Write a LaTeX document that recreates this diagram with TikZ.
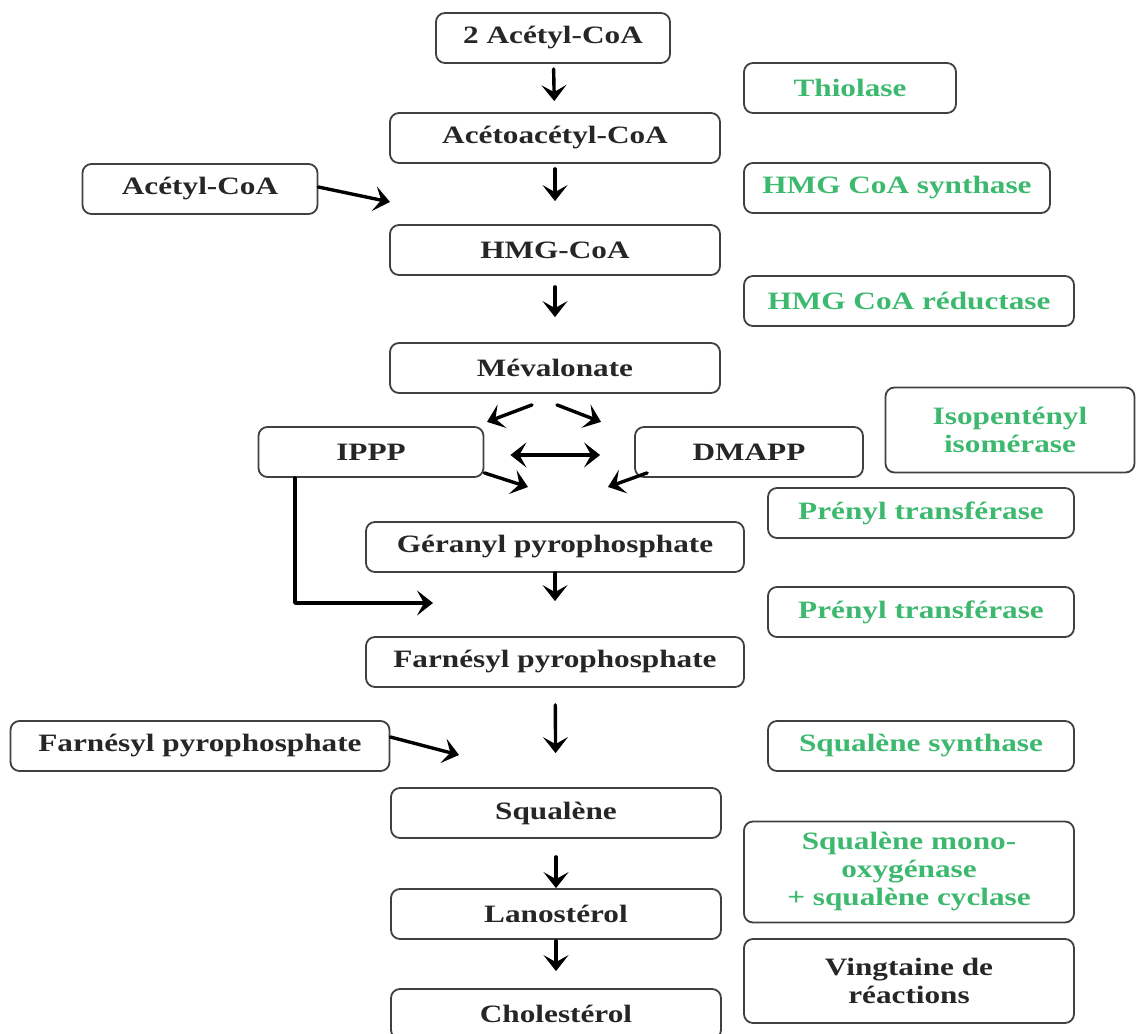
\documentclass[tikz,border=0pt]{standalone}
\usepackage{fontspec}
\setmainfont{Liberation Serif}[FakeStretch=1.25]
\usetikzlibrary{arrows.meta}
\definecolor{enzgreen}{RGB}{60,185,110}
\tikzset{
    box/.style={%metabolite boxes
        draw=black!75,line width=1.8pt,rounded corners=9pt,
        minimum height=50pt,inner sep=0pt,align=center,text=black!85,
        font=\fontsize{25}{28}\selectfont\bfseries},
    enzyme/.style={box,text=enzgreen},
    flow/.style={->,line width=3.4pt}
    }
\begin{document}
\begin{tikzpicture}[line cap=round,line join=round,>={Stealth[length=16pt,width=25pt,inset=7pt]},x=1pt,y=-1pt]
\useasboundingbox (0,0) rectangle (1136,1034);
\node[box,minimum width=234pt] (acetyl2) at (553,38) {2 Acétyl-CoA};
\node[box,minimum width=330pt] (acetoacetyl) at (555,138) {Acétoacétyl-CoA};
\node[box,minimum width=235pt] (acetyl) at (200,189) {Acétyl-CoA};
\node[box,minimum width=330pt] (hmgcoa) at (555,250) {HMG-CoA};
\node[box,minimum width=330pt] (meva) at (555,368) {Mévalonate};
\node[box,minimum width=225pt] (ippp) at (371,452) {IPPP};
\node[box,minimum width=228pt] (dmapp) at (749,452) {DMAPP};
\node[box,minimum width=378pt] (geranyl) at (555,547) {Géranyl pyrophosphate};
\node[box,minimum width=378pt] (farnesyl) at (555,662) {Farnésyl pyrophosphate};
\node[box,minimum width=379pt] (farnesylL) at (200,746) {Farnésyl pyrophosphate};
\node[box,minimum width=330pt] (squalene) at (556,813) {Squalène};
\node[box,minimum width=330pt] (lanosterol) at (556,914) {Lanostérol};
\node[box,minimum width=330pt] (cholesterol) at (556,1014) {Cholestérol};
\node[enzyme,minimum width=212pt] (thiolase) at (850,88) {Thiolase};
\node[enzyme,minimum width=306pt] (hmgsynth) at (897,188) {HMG CoA synthase};
\node[enzyme,minimum width=330pt] (hmgred) at (909,301) {HMG CoA réductase};
\node[enzyme,minimum width=249pt,minimum height=85pt] (isomerase) at (1010,430) {Isopentényl\\isomérase};
\node[enzyme,minimum width=306pt] (prenyl1) at (921,513) {Prényl transférase};
\node[enzyme,minimum width=306pt] (prenyl2) at (921,612) {Prényl transférase};
\node[enzyme,minimum width=306pt] (squasynth) at (921,746) {Squalène synthase};
\node[enzyme,minimum width=330pt,minimum height=101pt] (monooxy) at (909,872) {Squalène mono-\\oxygénase\\+ squalène cyclase};
\node[box,minimum width=330pt,minimum height=84pt] (vingtaine) at (909,981) {Vingtaine de\\réactions};
\coordinate (j1) at (390,202);
\coordinate (j2a) at (528,487);
\coordinate (j2b) at (608,487);
\coordinate (j3) at (433,603);
\coordinate (j4) at (459,755);
\draw[flow,shorten <=5pt,shorten >=11pt] (acetyl2) -- (acetoacetyl);
\draw[flow,shorten <=5pt,shorten >=23pt] (acetoacetyl) -- (hmgcoa);
\draw[flow,shorten <=11pt,shorten >=25pt] (hmgcoa) -- (meva);
\draw[flow] ([yshift=2pt]acetyl.east) -- (j1);
\draw[flow] ([xshift=-23pt,yshift=-11pt]meva.south) -- ([xshift=-68pt,yshift=-28pt]meva.south);
\draw[flow] ([xshift=2pt,yshift=-11pt]meva.south) -- ([xshift=46pt,yshift=-28pt]meva.south);
\draw[<->,line width=3.4pt,shorten <=26pt,shorten >=34pt] ([yshift=-3pt]ippp.east) -- ([yshift=-3pt]dmapp.west);
\draw[flow] ([yshift=5pt]ippp.south east) -- (j2a);
\draw[flow] ([xshift=13pt,yshift=5pt]dmapp.south west) -- (j2b);
\draw[flow] ([xshift=-76pt]ippp.south) |- (j3);
\draw[flow,shorten >=35pt] (geranyl) -- (farnesyl);
\draw[flow,shorten <=17pt,shorten >=34pt] (farnesyl) -- (squalene);
\draw[flow] ([yshift=9pt]farnesylL.east) -- (j4);
\draw[flow,shorten <=18pt] (squalene) -- (lanosterol);
\draw[flow,shorten <=1pt,shorten >=17pt] (lanosterol) -- (cholesterol);
\end{tikzpicture}
\end{document}
